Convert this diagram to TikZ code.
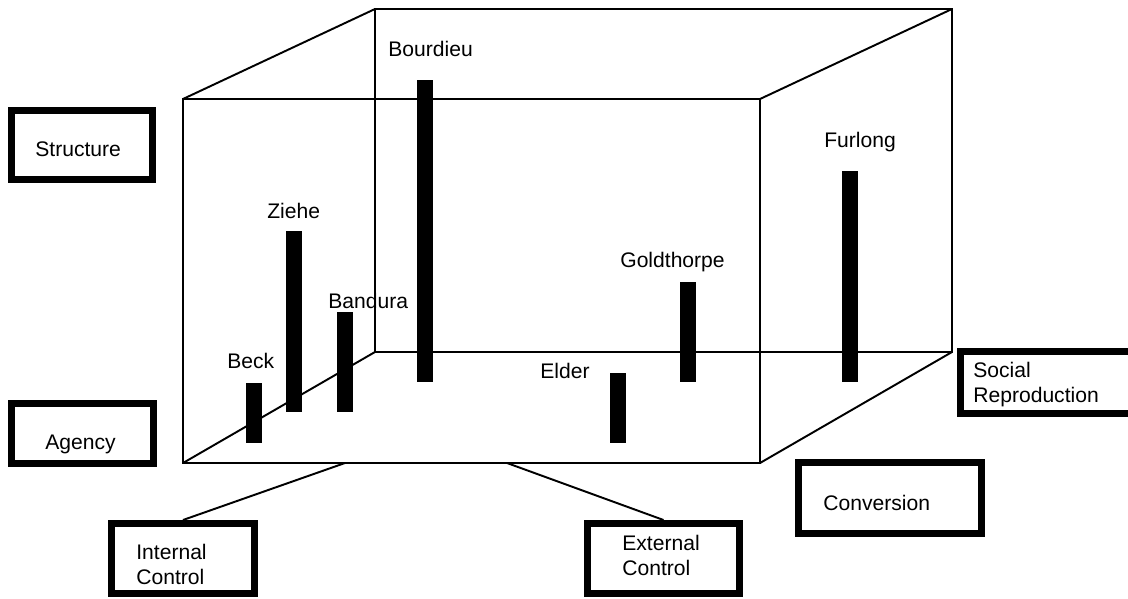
\documentclass[tikz,border=0pt]{standalone}
\usepackage{fontspec}
\setmainfont{Liberation Sans}

\begin{document}
\begin{tikzpicture}[
    x=0.02cm, y=-0.02cm,
    font=\fontsize{12pt}{14.2pt}\selectfont,
    edge/.style={line width=1.1pt},
    box/.style={draw, line width=4pt, inner sep=0pt},
    lbl/.style={anchor=base west, inner sep=0pt},
    tag/.style={anchor=west, inner sep=0pt, align=left}
]
    \useasboundingbox (0,0) rectangle (1128,598);

    % --- Cube corners (front / back) ---
    \coordinate (fTL) at (183,99);
    \coordinate (fTR) at (760,99);
    \coordinate (fBR) at (760,463);
    \coordinate (fBL) at (183,463);
    \coordinate (bTL) at (375,9);
    \coordinate (bTR) at (952,9);
    \coordinate (bBR) at (952,352);
    \coordinate (bBL) at (375,352);

    % --- Cube edges ---
    \draw[edge] (fTL) -- (fTR) -- (fBR) -- (fBL) -- cycle;
    \draw[edge] (bTL) -- (bTR) -- (bBR) -- (bBL) -- cycle;
    \draw[edge] (fTL) -- (bTL) (fTR) -- (bTR) (fBR) -- (bBR) (fBL) -- (bBL);

    % --- Bars ---
    \fill (246,383) rectangle (262,443);
    \fill (286,231) rectangle (302,412);
    \fill (337,312) rectangle (353,412);
    \fill (417,80)  rectangle (433,382);
    \fill (610,373) rectangle (626,443);
    \fill (680,282) rectangle (696,382);
    \fill (842,171) rectangle (858,382);

    % --- Bar labels ---
    \node[lbl] (beck)       at (227,368) {Beck};
    \node[lbl] (ziehe)      at (267,218) {Ziehe};
    \node[lbl] (bandura)    at (328,308) {Bandura};
    \node[lbl] (bourdieu)   at (388,57)  {Bourdieu};
    \node[lbl] (elder)      at (540,378) {Elder};
    \node[lbl] (goldthorpe) at (620,267) {Goldthorpe};
    \node[lbl] (furlong)    at (824,147) {Furlong};

    % --- Axis boxes ---
    \node[box, minimum width=2.82cm, minimum height=1.38cm] (structure)  at (82,145)      {};
    \node[box, minimum width=2.84cm, minimum height=1.20cm] (agency)     at (82.5,433.5)  {};
    \node[box, minimum width=2.86cm, minimum height=1.40cm] (internal)   at (183,558.5)   {};
    \node[box, minimum width=3.04cm, minimum height=1.40cm] (external)   at (663.5,558.5) {};
    \node[box, minimum width=4.40cm, minimum height=1.24cm] (socialrep)  at (1070.5,382.5) {};
    \node[box, minimum width=3.66cm, minimum height=1.42cm] (conversion) at (890,498)     {};

    \node[lbl] (structuretxt)  at (35,156)  {Structure};
    \node[lbl] (agencytxt)     at (45,449)  {Agency};
    \node[tag] (internaltxt)   at (136,564.6) {Internal\\Control};
    \node[tag] (externaltxt)   at (622,555.2) {External\\Control};
    \node[tag] (socialreptxt)  at (973,385) {Social\\Reproduction};
    \node[lbl] (conversiontxt) at (823,510) {Conversion};

    % --- Connectors to the control boxes ---
    \coordinate (icfoot) at (345,463);
    \coordinate (ecfoot) at (507,463);
    \draw[edge] (icfoot) -- (internal.north);
    \draw[edge] (ecfoot) -- (external.north);

\end{tikzpicture}
\end{document}
